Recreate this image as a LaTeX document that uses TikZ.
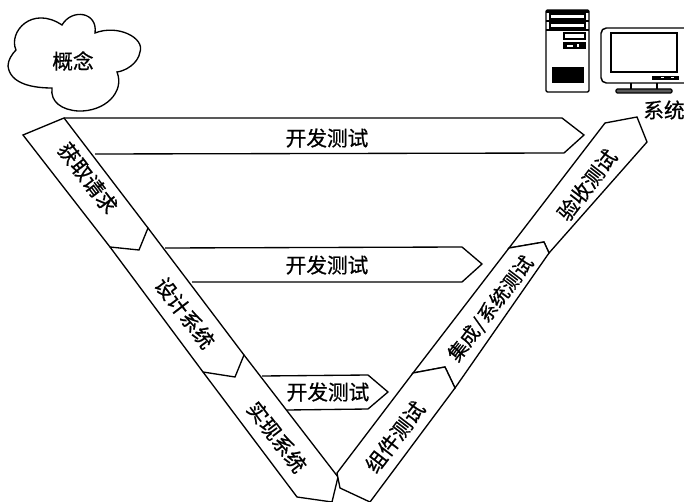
\documentclass[tikz,border=0pt]{standalone}
\usepackage{fontspec}
\setmainfont[RawFeature={embolden=0.7}]{Noto Sans CJK SC}
\begin{document}
\begin{tikzpicture}[x=0.75pt,y=-0.75pt,
  band/.style={draw=black,fill=white,line width=1pt,line join=miter},
  label/.style={font=\fontsize{15.5}{16}\selectfont,inner sep=0pt,text=black},
  gear/.style={draw=black,line width=1.1pt,fill=white}]
\useasboundingbox (0,0) rectangle (684,502);
\fill[white] (0,0) rectangle (684,502);

% concept cloud
\draw[band] (16,50) .. controls (8,32) and (32,5) .. (62,25)
  .. controls (72,8) and (98,12) .. (95,33)
  .. controls (118,24) and (145,38) .. (140,52)
  .. controls (138,64) and (125,71) .. (117,72)
  .. controls (125,92) and (105,112) .. (78,111)
  .. controls (62,110) and (50,102) .. (52,88)
  .. controls (33,88) and (10,84) .. (8,66)
  .. controls (8,60) and (12,54) .. (16,50) -- cycle;
\node[label] (concept) at (73,61) {概念};

% development-test arrows
\draw[band] (64,118) -- (562,118) -- (584,135) -- (564,153) -- (95,154);
\draw[band] (165,248) -- (462,247) -- (482,264) -- (462,282) -- (192,282);
\draw[band] (262,376) -- (368,375) -- (388,392) -- (368,409) -- (287,410);
\node[label] (devA) at (327,138) {开发测试};
\node[label] (devB) at (327,265) {开发测试};
\node[label] (devC) at (328,392) {开发测试};

% left descending band, last segment first so each notch overlaps the next
\draw[band] (244,355) -- (338,477) -- (332,502) -- (297,497) -- (203,372);
\draw[band] (148,228) -- (244,355) -- (235,377) -- (203,372) -- (110,247);
\draw[band] (64,118) -- (148,228) -- (139,250) -- (110,247) -- (23,135) -- cycle;
\node[label,rotate=-52.6] (req) at (88,178) {获取请求};
\node[label,rotate=-52.6] (design) at (185,313) {设计系统};
\node[label,rotate=-52.6] (impl) at (277,437) {实现系统};

% right ascending band
\draw[band] (605,123) -- (637,117) -- (647,142) -- (549,253) -- (544,242) -- (509,248) -- cycle;
\draw[band] (509,248) -- (544,242) -- (549,253) -- (455,388) -- (445,367) -- (413,373) -- cycle;
\draw[band] (413,373) -- (445,367) -- (455,388) -- (370,502) -- (340,488) -- (337,473) -- cycle;
\node[label,rotate=52.5] (accept) at (587,185) {验收测试};
\node[label,rotate=52.5,font=\fontsize{14.5}{16}\selectfont] (integ) at (491,309) {集成\kern1pt/\kern1pt系统测试};
\node[label,rotate=52.5] (comp) at (395,437) {组件测试};

% tower case
\draw[gear,rounded corners=1pt] (546,10) rectangle (589,92);
\fill[black] (546,10) rectangle (589,13);
\fill[black] (546,20) rectangle (589,22);
\fill[black] (546,29) rectangle (589,31);
\draw[gear,line width=0.8pt] (550,14) rectangle (585,19);
\draw[gear,line width=0.8pt] (550,23) rectangle (585,28);
\draw[gear] (564,33) rectangle (585,39);
\fill[black] (563,42) rectangle (586,49);
\fill[white] (567,45) rectangle (573,47);
\fill[white] (577,44) rectangle (579,47);
\fill[black] (552,67) rectangle (584,83);

% monitor, running off the right side of the page
\draw[gear,rounded corners=4pt] (601,28) rectangle (692,83);
\draw[gear] (611,33) rectangle (677,72);
\fill[black] (652,76) rectangle (679,80);
\fill[white] (661,77.5) rectangle (664,78.5);
\fill[white] (671,77.5) rectangle (674,78.5);
\draw[black,line width=1.1pt] (631,83) -- (631,89);
\draw[black,line width=1.1pt] (657,83) -- (657,89);
\draw[black,fill=black!65,line width=0.9pt,rounded corners=1pt] (616,89) rectangle (672,93);
\node[label] (sys) at (664,110) {系统};
\end{tikzpicture}
\end{document}
